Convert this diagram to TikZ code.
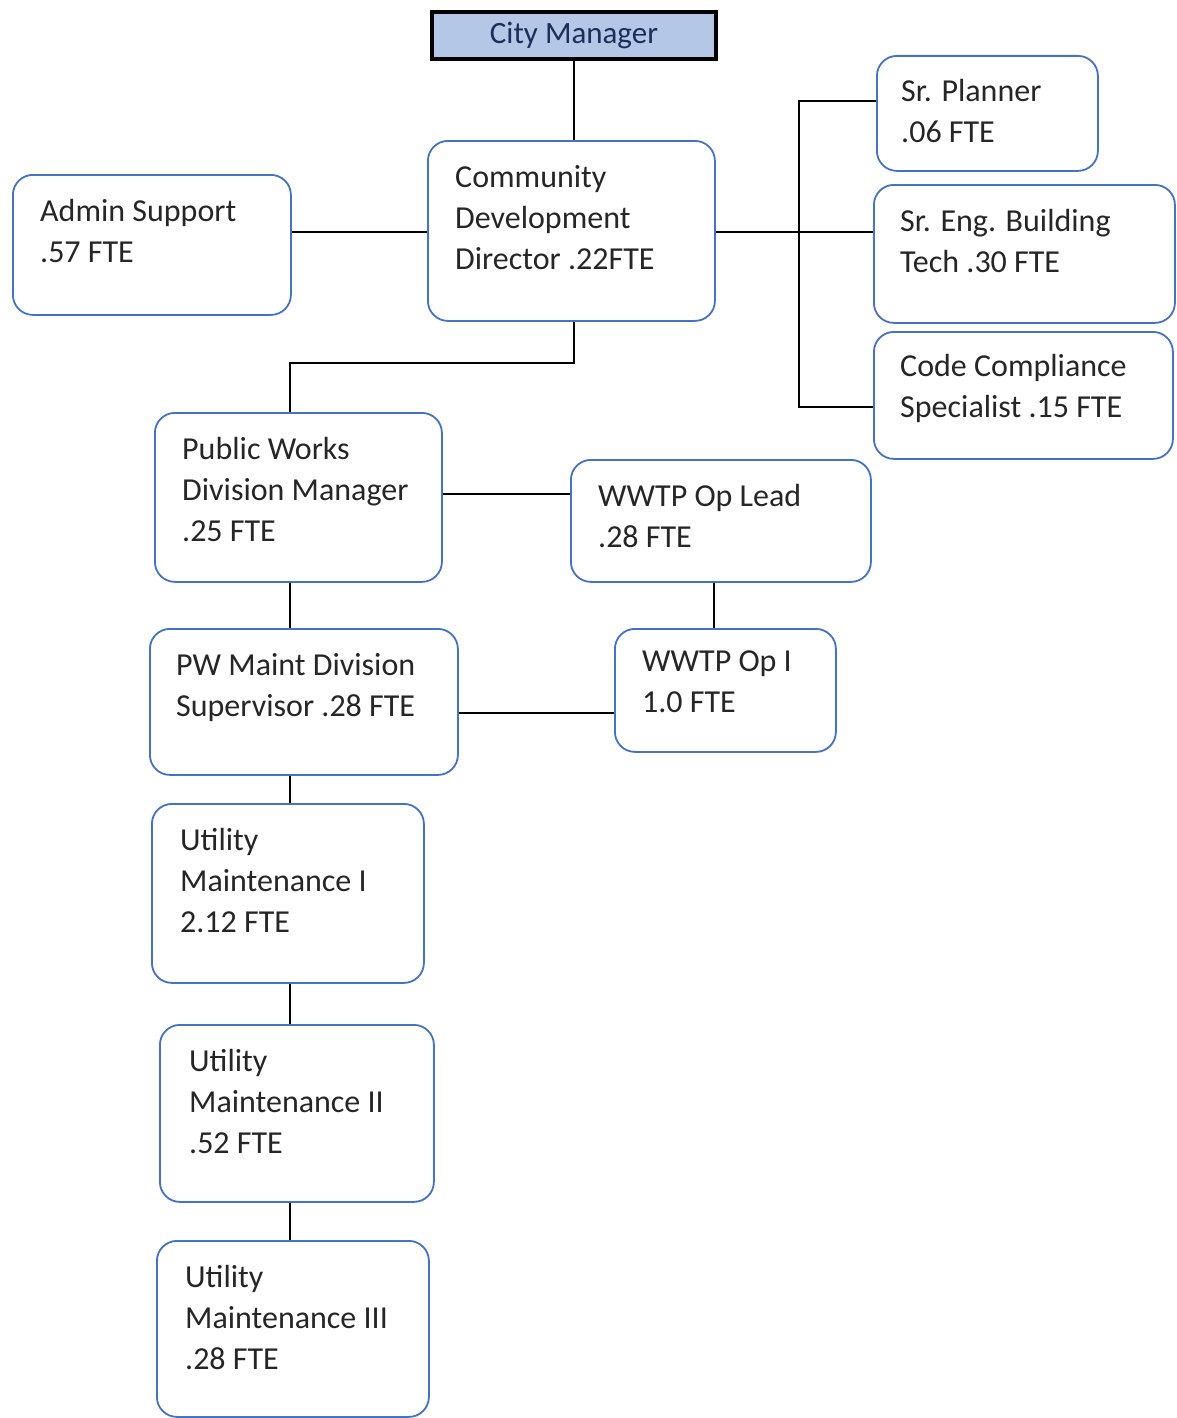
\documentclass[tikz,border=0pt]{standalone}
\usepackage{fontspec}
\setmainfont{Carlito}
\definecolor{boxblue}{HTML}{4472C4}
\definecolor{cmfill}{HTML}{B4C7E7}
\definecolor{cmtext}{HTML}{1F2D5A}
\definecolor{txtgray}{HTML}{262626}

\begin{document}
\begin{tikzpicture}[x=1pt, y=-1pt,
    orgbox/.style={draw=boxblue, line width=1.8pt, rounded corners=20pt, fill=white, anchor=north west, inner sep=0pt},
    orgtxt/.style={anchor=north west, inner sep=0pt, align=left, text=txtgray, font=\fontsize{32}{41}\selectfont, execute at begin node=\strut},
    link/.style={draw=black, line width=1.8pt}]
    \useasboundingbox (0,0) rectangle (1177,1418);

    % Top of the chart
    \node[draw=black, line width=4pt, fill=cmfill, text=cmtext, anchor=north west, minimum width=284pt, minimum height=47pt, inner sep=0pt, font=\fontsize{31}{38}\selectfont] (cm) at (430,10) {\raisebox{-2pt}{City Manager}};
    \node[orgbox, minimum width=287pt, minimum height=180pt] (cdd) at (427,140) {};
    \node[orgtxt] (cddT) at ([shift={(28,25)}]cdd.north west) {Community\\Development\\Director .22FTE};

    % Left of director
    \node[orgbox, minimum width=278pt, minimum height=140pt] (adm) at (12,174) {};
    \node[orgtxt] (admT) at ([shift={(28,25)}]adm.north west) {Admin Support\\.57 FTE};

    % Right column
    \node[orgbox, minimum width=221pt, minimum height=115pt] (spl) at (876,55) {};
    \node[orgtxt] (splT) at ([shift={(25,24)}]spl.north west) {Sr. Planner\\.06 FTE};
    \node[orgbox, minimum width=301pt, minimum height=138pt] (seng) at (873,184) {};
    \node[orgtxt] (sengT) at ([shift={(27,25)}]seng.north west) {Sr. Eng. Building\\Tech .30 FTE};
    \node[orgbox, minimum width=299pt, minimum height=127pt] (ccs) at (873,331) {};
    \node[orgtxt] (ccsT) at ([shift={(27,23)}]ccs.north west) {Code Compliance\\Specialist .15 FTE};

    % Public works
    \node[orgbox, minimum width=287pt, minimum height=169pt] (pwm) at (154,412) {};
    \node[orgtxt] (pwmT) at ([shift={(28,25)}]pwm.north west) {Public Works\\Division Manager\\.25 FTE};
    \node[orgbox, minimum width=300pt, minimum height=122pt] (lead) at (570,459) {};
    \node[orgtxt] (leadT) at ([shift={(28,25)}]lead.north west) {WWTP Op Lead\\.28 FTE};
    \node[orgbox, minimum width=308pt, minimum height=146pt] (maint) at (149,628) {};
    \node[orgtxt] (maintT) at ([shift={(27,25)}]maint.north west) {PW Maint Division\\Supervisor .28 FTE};
    \node[orgbox, minimum width=221pt, minimum height=123pt] (op1) at (614,628) {};
    \node[orgtxt] (op1T) at ([shift={(28,23)}]op1.north west) {WWTP Op I\\1.0 FTE};

    % Utility maintenance
    \node[orgbox, minimum width=272pt, minimum height=179pt] (um1) at (151,803) {};
    \node[orgtxt] (um1T) at ([shift={(29,25)}]um1.north west) {Utility\\Maintenance I\\2.12 FTE};
    \node[orgbox, minimum width=274pt, minimum height=177pt] (um2) at (159,1024) {};
    \node[orgtxt] (um2T) at ([shift={(30,25)}]um2.north west) {Utility\\Maintenance II\\.52 FTE};
    \node[orgbox, minimum width=272pt, minimum height=176pt] (um3) at (156,1240) {};
    \node[orgtxt] (um3T) at ([shift={(29,25)}]um3.north west) {Utility\\Maintenance III\\.28 FTE};

    % Connectors
    \coordinate (spine) at (290,363);
    \coordinate (busT) at (799,101);
    \coordinate (busB) at (799,407);
    \coordinate (cddY) at (350,232);
    \coordinate (pwY) at (500,494);
    \coordinate (opX) at (714,600);
    \coordinate (opY) at (535,713);
    \draw[link] (cm.south) -- (cm.south |- cdd.north);
    \draw[link] (adm.east |- cddY) -- (cdd.west |- cddY);
    \draw[link] (cdd.east |- cddY) -- (seng.west |- cddY);
    \draw[link] (spl.west |- busT) -- (busT) -- (busB) -- (ccs.west |- busB);
    \draw[link] (cdd.south -| cm.south) |- (spine) -- (spine |- pwm.north);
    \draw[link] (pwm.east |- pwY) -- (lead.west |- pwY);
    \draw[link] (lead.south -| opX) -- (op1.north -| opX);
    \draw[link] (maint.east |- opY) -- (op1.west |- opY);
    \draw[link] (spine |- pwm.south) -- (spine |- maint.north);
    \draw[link] (spine |- maint.south) -- (spine |- um1.north);
    \draw[link] (spine |- um1.south) -- (spine |- um2.north);
    \draw[link] (spine |- um2.south) -- (spine |- um3.north);
\end{tikzpicture}
\end{document}
